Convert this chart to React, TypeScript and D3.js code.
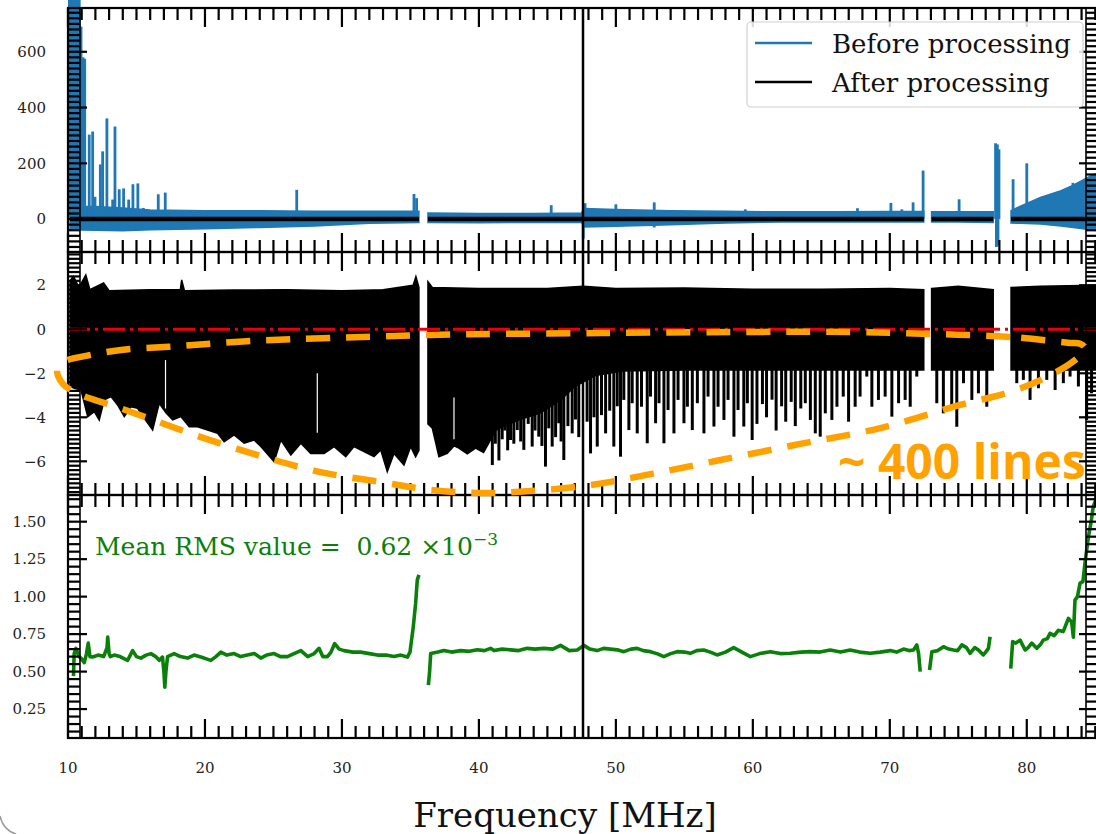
import { useEffect, useRef } from 'react';
import * as d3 from 'd3';

// ---- values ----
const freqRange: [number, number] = [10, 85.2];
const xMajorTicks = [10, 20, 30, 40, 50, 60, 70, 80];

const topYTicks = [0, 200, 400, 600];
const midYTicks = [-6, -4, -2, 0, 2];
const botYTicks = [0.25, 0.5, 0.75, 1.0, 1.25, 1.5];

// before processing (blue) : band envelope [freq, upper, lower] per frequency block
const beforeEnv: [number, number, number][][] = [
  [[10.15, 45, -38], [12, 45, -40], [14, 40, -42], [16, 33, -38], [20, 30, -35], [24, 30, -30], [28, 28, -25], [32, 28, -15], [35.62, 28, -12]],
  [[36.28, 22, -12], [40, 20, -13], [44, 20, -12], [47.5, 22, -12], [47.65, 38, -28], [50, 34, -26], [54, 30, -20], [58, 28, -14], [62, 26, -10], [66, 26, -10], [70, 27, -10], [72.48, 27, -10]],
  [[73.05, 26, -10], [75, 26, -10], [77.55, 26, -12]],
  [[78.85, 30, -14], [79.5, 45, -15], [81, 78, -18], [82.5, 102, -25], [83.4, 122, -30], [84.8, 158, -39], [85.2, 165, -42]],
];
// narrow RFI peaks [freq, value]
const beforeSpikes: [number, number][] = [
  [10.1, 800], [10.25, 800], [10.4, 800], [10.55, 800], [10.7, 800], [10.82, 800], [10.95, 690], [11.1, 580], [11.22, 575],
  [11.55, 303], [11.8, 314], [11.97, 80], [12.36, 196], [12.53, 243], [12.84, 361], [13.26, 70], [13.43, 332],
  [13.74, 107], [14.06, 110], [14.43, 70], [14.74, 125], [15.1, 128], [15.5, 40], [16.59, 89], [17.1, 95],
  [26.7, 105], [35.26, 90], [35.45, 75], [45.28, 50], [47.75, 57], [50.0, 53], [50.3, 35], [52.8, 60],
  [59.45, 35], [62.56, 20], [65.36, 20], [67.64, 39], [70.08, 58], [70.88, 35], [71.7, 60], [72.43, 174],
  [75.06, 71], [77.72, 272], [77.85, 268], [77.97, 250], [79.0, 143], [80.0, 200], [83.37, 130],
];
const beforeDips: [number, number][] = [[47.62, -70], [52.8, -30], [77.78, -100], [77.9, -95]];

// after processing (black, middle panel) : upper and lower edge per block
const afterUpper: [number, number][][] = [
  [[10.15, 2.2], [10.4, 2.4], [10.8, 1.9], [11.3, 2.47], [11.6, 1.8], [12.6, 2.1], [13, 1.75], [16, 1.8], [18.2, 1.8], [18.3, 2.24], [18.5, 1.75], [22, 1.78], [26, 1.8], [30, 1.75], [33, 1.8], [35.2, 2.0], [35.4, 2.39], [35.62, 1.9]],
  [[36.28, 2.16], [36.6, 1.9], [40, 1.85], [45, 1.85], [47.6, 1.95], [50, 1.85], [55, 1.88], [60, 1.82], [65, 1.82], [70, 1.85], [72.48, 1.8]],
  [[73.05, 1.85], [75, 1.95], [77.55, 1.8]],
  [[78.85, 1.9], [81, 1.95], [85.2, 2.0]],
];
const afterLower: [number, number][][] = [
  [[10.15, -2.6], [10.46, -2.68], [10.95, -2.76], [11.44, -3.97], [11.92, -3.74], [12.28, -4.12], [12.65, -3.21], [13.14, -3.06],
   [13.62, -3.44], [14.11, -3.97], [14.6, -3.52], [15.08, -3.59], [15.57, -4.05], [16.18, -4.58], [16.66, -3.36], [17.15, -3.8],
   [17.64, -4.12], [18.24, -3.97], [18.85, -4.43], [19.46, -4.43], [20.19, -4.58], [20.92, -4.73], [21.4, -5.11], [22.13, -4.8],
   [22.86, -5.18], [23.59, -5.03], [24.08, -5.33], [25.05, -6.02], [25.54, -5.03], [26.27, -5.71], [27.0, -5.18], [27.72, -5.64],
   [28.7, -5.64], [29.43, -5.33], [30.28, -5.79], [30.88, -5.33], [31.61, -5.56], [32.34, -5.79], [32.83, -5.48], [33.31, -6.47],
   [33.8, -5.64], [34.53, -6.17], [35.02, -5.33], [35.38, -5.79], [35.62, -5.5]],
  [[36.28, -4.3], [36.6, -4.5], [37.08, -5.79], [37.69, -5.64], [38.18, -5.3], [38.54, -5.4], [39.15, -5.66], [39.76, -5.4],
   [40.34, -5.6], [40.7, -5.2], [41.2, -4.6], [41.8, -4.4], [43, -4.1], [44.5, -3.8], [46, -3.2], [47, -2.6], [48.5, -2.1], [50.5, -1.9], [55, -1.85], [72.48, -1.85]],
  [[73.05, -1.85], [77.55, -1.85]],
  [[78.85, -1.85], [85.2, -1.85]],
];
// absorption-like lines below the body [freq, minimum]
const afterSpikes: [number, number][] = [
  [40.98, -6.17], [41.2, -5.2], [41.46, -5.96], [41.7, -5.0], [41.9, -4.6], [42.1, -5.5], [42.31, -5.03], [42.55, -5.2], [42.8, -4.58],
  [43.05, -5.1], [43.28, -5.48], [43.6, -4.3], [43.89, -5.33], [44.1, -4.6], [44.37, -4.88], [44.6, -5.3], [44.86, -6.24], [45.1, -4.5],
  [45.35, -5.33], [45.6, -4.9], [45.83, -4.27], [46.0, -5.1], [46.2, -5.94], [46.5, -4.4], [46.81, -4.73], [47.05, -4.1],
  [47.29, -4.9], [47.9, -4.2], [48.15, -5.64], [48.4, -4.0], [48.64, -5.33], [48.95, -3.9], [49.25, -4.73], [49.55, -3.7],
  [49.85, -5.33], [50.1, -3.5], [50.34, -5.79], [50.58, -3.21], [50.95, -4.58], [51.19, -3.36], [51.56, -4.73], [51.87, -3.52],
  [52.29, -5.18], [52.53, -3.06], [52.9, -4.27], [53.15, -3.36], [53.51, -5.18], [53.81, -3.67], [54.24, -4.73], [54.54, -3.21],
  [54.97, -4.27], [55.22, -3.52], [55.58, -4.58], [55.95, -3.36], [56.43, -4.73], [56.73, -3.06], [57.16, -4.42], [57.46, -3.52],
  [57.89, -4.12], [58.19, -3.21], [58.62, -4.88], [58.92, -3.67], [59.34, -4.42], [59.6, -3.36], [59.95, -5.03],
  [60.3, -4.3], [60.7, -3.4], [61.0, -4.0], [61.4, -3.2], [61.7, -4.6], [62.1, -3.5], [62.4, -4.2], [62.8, -3.3], [63.1, -4.4], [63.5, -3.6],
  [63.83, -3.36], [64.2, -4.12], [64.56, -4.73], [64.92, -4.88], [65.29, -3.82], [65.77, -4.12], [66.14, -3.52], [66.6, -3.06],
  [66.99, -4.2], [67.47, -3.52], [67.83, -3.06], [68.32, -2.15], [68.69, -3.52], [69.17, -3.21], [69.66, -3.06], [70.15, -3.97],
  [70.64, -3.36], [71.12, -3.21], [71.49, -3.52], [71.97, -2.15],
  [73.43, -3.36], [73.91, -3.82], [74.52, -3.52], [74.89, -4.43], [75.38, -2.45], [75.99, -3.21], [76.47, -2.91], [77.08, -3.52],
  [79.27, -2.45], [79.75, -2.3], [80.24, -3.21], [80.85, -2.68], [81.46, -2.3], [82.07, -2.76], [82.67, -2.45], [83.16, -2.15],
  [83.77, -2.6], [84.37, -4.12], [84.73, -2.91],
];
// thin holes inside the black body [freq, top, bottom]
const afterNotches: [number, number, number][] = [[17.12, -1.4, -3.6], [28.2, -2.0, -4.7], [38.18, -3.1, -5.0]];

// RMS (green, bottom panel), one array per block
const rmsBlocks: [number, number][][] = [
  [[10.4, 0.47], [10.45, 0.62], [10.58, 0.655], [10.8, 0.6], [10.95, 0.59], [11.19, 0.56], [11.35, 0.62], [11.48, 0.69], [11.6, 0.6],
   [11.8, 0.597], [12.2, 0.61], [12.6, 0.6], [12.85, 0.66], [12.9, 0.73], [13.0, 0.62], [13.09, 0.6], [13.38, 0.61], [13.8, 0.6],
   [14.35, 0.575], [14.72, 0.64], [15.0, 0.6], [15.32, 0.59], [15.7, 0.61], [16.05, 0.62], [16.4, 0.6], [16.66, 0.575], [16.9, 0.597],
   [17.0, 0.5], [17.07, 0.396], [17.15, 0.5], [17.27, 0.6], [17.75, 0.62], [18.2, 0.6], [18.73, 0.59], [19.2, 0.61], [19.7, 0.597],
   [20.43, 0.575], [20.8, 0.6], [21.16, 0.63], [21.6, 0.61], [22.13, 0.62], [22.6, 0.6], [23.1, 0.61], [23.6, 0.62], [24.08, 0.59],
   [24.5, 0.61], [25.05, 0.62], [25.5, 0.6], [26.02, 0.6], [26.5, 0.62], [27.0, 0.64], [27.5, 0.6], [27.97, 0.62], [28.33, 0.655],
   [28.6, 0.6], [28.94, 0.6], [29.2, 0.63], [29.47, 0.687], [29.8, 0.65], [30.15, 0.64], [30.8, 0.63], [31.37, 0.63], [32.0, 0.62],
   [32.59, 0.61], [33.2, 0.61], [33.8, 0.6], [34.3, 0.61], [34.78, 0.597], [34.97, 0.63], [35.21, 0.8], [35.38, 0.955], [35.5, 1.11], [35.62, 1.145]],
  [[36.31, 0.41], [36.4, 0.5], [36.48, 0.62], [37.0, 0.63], [37.45, 0.64], [38.0, 0.63], [38.66, 0.64], [39.3, 0.635], [39.88, 0.646],
   [40.4, 0.64], [40.85, 0.655], [41.1, 0.64], [41.7, 0.65], [42.31, 0.645], [42.9, 0.64], [43.53, 0.655], [44.1, 0.65], [44.74, 0.655],
   [45.4, 0.65], [45.96, 0.675], [46.6, 0.64], [47.18, 0.644], [47.66, 0.675], [48.1, 0.65], [48.63, 0.64], [49.1, 0.655], [49.6, 0.65],
   [50.1, 0.645], [50.58, 0.633], [51.1, 0.65], [51.55, 0.655], [52.0, 0.64], [52.52, 0.633], [53.0, 0.62], [53.5, 0.6], [54.0, 0.62],
   [54.47, 0.633], [55.0, 0.63], [55.44, 0.622], [55.9, 0.64], [56.41, 0.644], [56.9, 0.63], [57.39, 0.611], [58.0, 0.63], [58.6, 0.66],
   [59.2, 0.63], [59.82, 0.6], [60.5, 0.62], [61.28, 0.633], [62.0, 0.62], [62.74, 0.622], [63.5, 0.63], [64.2, 0.633], [64.9, 0.63],
   [65.65, 0.644], [66.4, 0.63], [67.11, 0.644], [67.8, 0.63], [68.57, 0.622], [69.3, 0.63], [70.03, 0.64], [70.5, 0.63], [71.0, 0.65],
   [71.4, 0.64], [71.73, 0.644], [71.97, 0.678], [72.1, 0.622], [72.22, 0.5]],
  [[72.9, 0.51], [73.07, 0.633], [73.5, 0.64], [73.92, 0.666], [74.3, 0.65], [74.65, 0.644], [74.95, 0.64], [75.26, 0.678], [75.6, 0.66],
   [75.86, 0.622], [76.2, 0.66], [76.47, 0.644], [76.83, 0.611], [77.0, 0.63], [77.2, 0.655], [77.32, 0.733]],
  [[78.83, 0.52], [78.97, 0.7], [79.2, 0.69], [79.51, 0.71], [79.88, 0.644], [80.1, 0.66], [80.36, 0.69], [80.73, 0.655], [81.0, 0.68],
   [81.2, 0.71], [81.5, 0.72], [81.7, 0.755], [82.0, 0.74], [82.3, 0.775], [82.66, 0.767], [83.04, 0.855], [83.28, 0.83], [83.4, 0.73],
   [83.52, 0.977], [83.7, 1.0], [83.89, 1.09], [84.1, 1.1], [84.25, 1.225], [84.5, 1.4], [84.7, 1.5], [84.85, 1.6], [85.1, 1.66]],
];

const markerFreq = 47.6;
// hand drawn loop around the lines, in middle panel units
const annotLoop: [number, number][] = [
  [83.16, -0.62], [78.78, -0.35], [72.95, -0.21], [67.11, -0.12], [60.55, -0.12], [48.88, -0.17], [36.48, -0.26], [29.18, -0.4],
  [23.35, -0.53], [18.24, -0.76], [13.87, -0.94], [11.31, -1.21], [9.64, -1.49], [9.2, -1.85], [9.64, -2.49], [10.95, -2.99],
  [13.14, -3.44], [16.05, -4.08], [19.7, -4.9], [24.08, -5.76], [28.45, -6.49], [32.83, -6.94], [36.48, -7.3], [40.12, -7.44],
  [43.77, -7.35], [48.15, -7.08], [52.52, -6.58], [57.63, -5.94], [63.46, -5.21], [69.3, -4.49], [75.13, -3.44], [78.78, -2.85],
  [81.33, -2.21], [83.52, -1.4], [84.25, -0.85], [83.9, -0.66],
];

const W = 1096, H = 834;
const X0 = 68, X1 = 1098;
const serif = '"DejaVu Serif", serif';

const App = () => {
  const ref = useRef<SVGSVGElement>(null);

  useEffect(() => {
    const svg = d3.select(ref.current);
    svg.selectAll('*').remove();

    const x = d3.scaleLinear().domain(freqRange).range([X0, X1]);
    const yTop = d3.scaleLinear().domain([-118, 757]).range([252, 8]);
    const yMid = d3.scaleLinear().domain([-7.53, 3.51]).range([495, 252]);
    const yBot = d3.scaleLinear().domain([0.057, 1.678]).range([738, 495]);

    svg.append('rect').attr('width', W).attr('height', H).attr('fill', '#fff');

    // top panel
    const gT = svg.append('g');
    const band = d3.area<[number, number, number]>()
      .x((d) => x(d[0])).y0((d) => yTop(d[2])).y1((d) => yTop(d[1]));
    beforeEnv.forEach((b) => gT.append('path').attr('d', band(b)).attr('fill', '#1f77b4').attr('stroke', '#1f77b4').attr('stroke-width', 1.5));
    gT.selectAll('.sp').data([...beforeSpikes, ...beforeDips]).join('line')
      .attr('x1', (d) => x(d[0])).attr('x2', (d) => x(d[0]))
      .attr('y1', yTop(0)).attr('y2', (d) => yTop(d[1]))
      .attr('stroke', '#1f77b4').attr('stroke-width', 2.8);
    beforeEnv.forEach((b) => gT.append('line')
      .attr('x1', x(b[0][0])).attr('x2', x(b[b.length - 1][0]))
      .attr('y1', yTop(0)).attr('y2', yTop(0))
      .attr('stroke', '#000').attr('stroke-width', 4.5));

    // middle panel
    const gM = svg.append('g');
    const poly = d3.line();
    afterUpper.forEach((up, i) => {
      const pts: [number, number][] = [
        ...up.map((d) => [x(d[0]), yMid(d[1])] as [number, number]),
        ...afterLower[i].slice().reverse().map((d) => [x(d[0]), yMid(d[1])] as [number, number]),
      ];
      gM.append('path').attr('d', poly(pts) + 'Z').attr('fill', '#000').attr('stroke', '#000').attr('stroke-width', 1.5);
    });
    gM.selectAll('.ln').data(afterSpikes).join('line')
      .attr('x1', (d) => x(d[0])).attr('x2', (d) => x(d[0]))
      .attr('y1', yMid(-1.5)).attr('y2', (d) => yMid(d[1]))
      .attr('stroke', '#000').attr('stroke-width', 3);
    gM.selectAll('.nt').data(afterNotches).join('line')
      .attr('x1', (d) => x(d[0])).attr('x2', (d) => x(d[0]))
      .attr('y1', (d) => yMid(d[1])).attr('y2', (d) => yMid(d[2]))
      .attr('stroke', '#fff').attr('stroke-width', 1.2);

    // bottom panel
    const gB = svg.append('g');
    const rmsLine = d3.line<[number, number]>().x((d) => x(d[0])).y((d) => yBot(d[1]));
    rmsBlocks.forEach((b) => gB.append('path').attr('d', rmsLine(b))
      .attr('fill', 'none').attr('stroke', '#0a800a').attr('stroke-width', 3.6).attr('stroke-linejoin', 'round'));

    // vertical marker
    svg.append('line').attr('x1', x(markerFreq)).attr('x2', x(markerFreq)).attr('y1', 8).attr('y2', 738)
      .attr('stroke', '#000').attr('stroke-width', 2.5);

    // zero line
    svg.append('line').attr('x1', X0).attr('x2', X1).attr('y1', yMid(0)).attr('y2', yMid(0))
      .attr('stroke', '#e8000b').attr('stroke-width', 3.2).attr('stroke-dasharray', '22 5 3 5');

    // frames and ticks
    const xMinor = d3.range(10, 86, 1).filter((f) => f % 10 !== 0 && f <= freqRange[1]);
    const frame = (y: d3.ScaleLinear<number, number>, maj: number[], minStep: number) => {
      const g = svg.append('g').attr('stroke', '#000');
      const [y1, y0] = y.range();
      const tick = (a: number, b: number, c: number, e: number, w = 2.2) =>
        g.append('line').attr('x1', a).attr('y1', b).attr('x2', c).attr('y2', e).attr('stroke-width', w);
      xMinor.forEach((f) => { tick(x(f), y0, x(f), y0 + 12); tick(x(f), y1, x(f), y1 - 12); });
      xMajorTicks.forEach((f) => { tick(x(f), y0, x(f), y0 + 19); tick(x(f), y1, x(f), y1 - 19); });
      const [d0, d1] = y.domain();
      const mins = d3.range(Math.ceil(d0 / minStep) * minStep, d1, minStep)
        .filter((v) => !maj.some((m) => Math.abs(m - v) < minStep / 10));
      mins.forEach((v) => { tick(X0, y(v), X0 + 12, y(v)); tick(X1, y(v), X1 - 12, y(v)); });
      maj.forEach((v) => { tick(X0, y(v), X0 + 19, y(v)); tick(X1, y(v), X1 - 19, y(v)); });
      tick(X0 + 12, y0, X0 + 12, y1, 1.6);
      tick(X1 - 12, y0, X1 - 12, y1, 1.6);
      g.append('rect').attr('x', X0).attr('y', y0).attr('width', X1 - X0).attr('height', y1 - y0)
        .attr('fill', 'none').attr('stroke-width', 2.2);
    };
    frame(yTop, topYTicks, 20);
    frame(yMid, midYTicks, 0.2);
    frame(yBot, botYTicks, 0.05);

    // tick labels
    const lab = svg.append('g').attr('font-family', serif).attr('font-size', 15).attr('fill', '#222');
    const yLab = (y: d3.ScaleLinear<number, number>, vals: number[], fmt: (v: number) => string) =>
      vals.forEach((v) => lab.append('text').attr('x', 46).attr('y', y(v)).attr('dy', '0.35em')
        .attr('text-anchor', 'end').text(fmt(v)));
    yLab(yTop, topYTicks, (v) => String(v));
    yLab(yMid, midYTicks, (v) => (v < 0 ? '\u2212' + Math.abs(v) : String(v)));
    yLab(yBot, botYTicks, d3.format('.2f'));
    xMajorTicks.forEach((f) => lab.append('text').attr('x', x(f)).attr('y', 773).attr('text-anchor', 'middle').text(f));

    // legend
    const lg = svg.append('g').attr('font-family', serif).attr('font-size', 26);
    lg.append('rect').attr('x', 747).attr('y', 22).attr('width', 336).attr('height', 85).attr('rx', 4)
      .attr('fill', 'rgba(255,255,255,0.85)').attr('stroke', '#d0d0d0').attr('stroke-width', 1.2);
    [['Before processing', '#1f77b4', 43], ['After processing', '#000', 82]].forEach(([t, c, yy]) => {
      lg.append('line').attr('x1', 755).attr('x2', 812).attr('y1', yy as number).attr('y2', yy as number)
        .attr('stroke', c as string).attr('stroke-width', 2.5);
      lg.append('text').attr('x', 832).attr('y', (yy as number) + 10).attr('fill', '#111').text(t as string);
    });

    // annotations
    svg.append('path')
      .attr('d', d3.line().curve(d3.curveCatmullRomClosed)(annotLoop.map((d) => [x(d[0]), yMid(d[1])])))
      .attr('fill', 'none').attr('stroke', '#ffa200').attr('stroke-width', 6.5).attr('stroke-dasharray', '24 16');
    svg.append('text').attr('x', 838).attr('y', 479).attr('font-family', '"Open Sans", sans-serif')
      .attr('font-weight', 700).attr('font-size', 48).attr('fill', '#ffa200').text('~ 400 lines');

    const rt = svg.append('text').attr('x', 95).attr('y', 555).attr('font-family', serif).attr('font-size', 25).attr('fill', '#0a800a');
    rt.append('tspan').text('Mean RMS value =\u00a0\u00a00.62 \u00d710');
    rt.append('tspan').attr('dy', -10).attr('font-size', 17).text('\u22123');

    svg.append('text').attr('x', 565).attr('y', 827).attr('text-anchor', 'middle')
      .attr('font-family', serif).attr('font-size', 34).attr('fill', '#111').text('Frequency [MHz]');

    // corner of the slide frame
    svg.append('path').attr('d', 'M0,816 Q3,830 16,834').attr('fill', 'none').attr('stroke', '#9a9a9a').attr('stroke-width', 1.5);
  }, []);

  return (
    <div style={{ position: 'absolute', left: 0, top: 0, width: W, height: H, background: '#fff' }}>
      <svg ref={ref} width={W} height={H} style={{ display: 'block' }} />
    </div>
  );
};

export default App;
